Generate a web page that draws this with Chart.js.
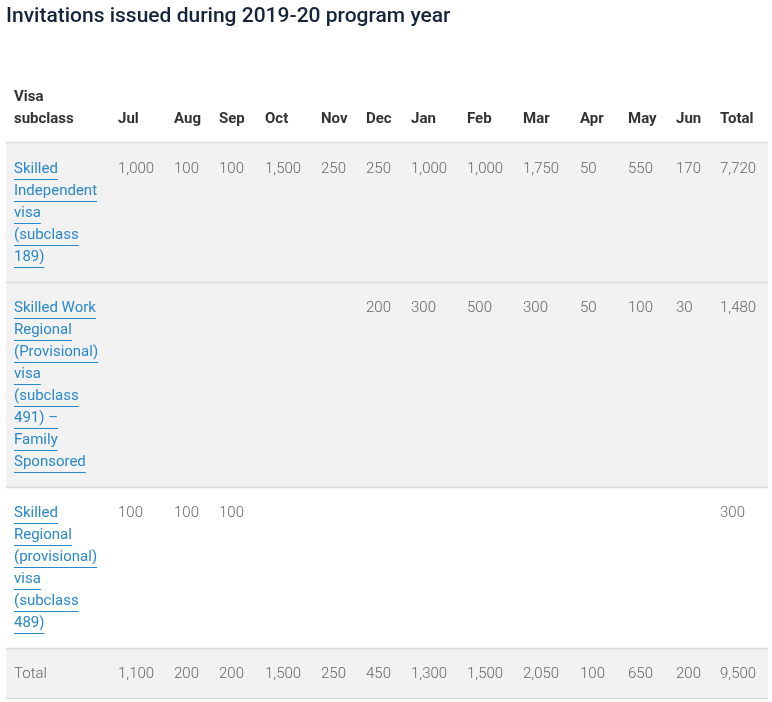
<!DOCTYPE html>
<html><head><meta charset="utf-8">
<script src="https://cdn.jsdelivr.net/npm/chart.js@4"></script>
<style>html,body{margin:0;padding:0;background:#fff}#w{width:772px;height:702px}</style>
</head><body><div id="w"><canvas id="c"></canvas></div>
<script>
const title = "Invitations issued during 2019-20 program year";
const columns = ["Jul","Aug","Sep","Oct","Nov","Dec","Jan","Feb","Mar","Apr","May","Jun","Total"];
const rowLabels = [
  ["Skilled","Independent","visa","(subclass","189)"],
  ["Skilled Work","Regional","(Provisional)","visa","(subclass","491) –","Family","Sponsored"],
  ["Skilled","Regional","(provisional)","visa","(subclass","489)"]
];
const row189 = ["1,000","100","100","1,500","250","250","1,000","1,000","1,750","50","550","170","7,720"];
const row491 = ["","","","","","200","300","500","300","50","100","30","1,480"];
const row489 = ["100","100","100","","","","","","","","","","300"];
const totals = ["1,100","200","200","1,500","250","450","1,300","1,500","2,050","100","650","200","9,500"];

// layout (pixel units on the linear scales)
const colX = [118,174,219,265,321,366,411,467,523,580,628,676,720];
const labelX = 14;
const bands = [[142,282,'#f2f2f2'],[282,487,'#f2f2f2'],[487,648,'#ffffff'],[648,698,'#f2f2f2']];
const rowTextY = [169,308,513];
const lineH = 22;

const tablePlugin = {
  id:'table',
  afterDraw(chart){
    const {ctx, scales:{x,y}} = chart;
    const X=v=>x.getPixelForValue(v), Y=v=>y.getPixelForValue(v);
    ctx.save();
    ctx.textBaseline='middle';
    ctx.fillStyle='#14243a';
    ctx.font='500 21px Roboto';
    ctx.fillText(title, X(6), Y(17));
    bands.forEach(([a,b,c])=>{
      ctx.fillStyle=c; ctx.fillRect(X(6),Y(a),X(768)-X(6),Y(b)-Y(a));
      ctx.strokeStyle='#dcdcdc'; ctx.lineWidth=1.3;
      ctx.beginPath(); ctx.moveTo(X(6),Y(a)+0.5); ctx.lineTo(X(768),Y(a)+0.5); ctx.stroke();
    });
    ctx.beginPath(); ctx.moveTo(X(6),Y(698)+0.5); ctx.lineTo(X(768),Y(698)+0.5); ctx.stroke();
    ctx.fillStyle='#333';
    ctx.font='bold 15px Roboto';
    ctx.fillText('Visa', X(labelX), Y(97));
    ctx.fillText('subclass', X(labelX), Y(119));
    columns.forEach((c,i)=>ctx.fillText(c, X(colX[i]), Y(119)));
    const rows=[row189,row491,row489];
    rows.forEach((r,ri)=>{
      ctx.font='15px Roboto';
      ctx.fillStyle='#2a88c8'; ctx.strokeStyle='#2a88c8'; ctx.lineWidth=1;
      rowLabels[ri].forEach((t,li)=>{
        const yy=Y(rowTextY[ri]+li*lineH);
        ctx.fillText(t, X(labelX), yy);
        const w=ctx.measureText(t).width;
        ctx.beginPath(); ctx.moveTo(X(labelX),yy+10.5); ctx.lineTo(X(labelX)+w,yy+10.5); ctx.stroke();
      });
      ctx.font='300 15px Roboto'; ctx.fillStyle='#666';
      r.forEach((v,i)=>{ if(v) ctx.fillText(v, X(colX[i]), Y(rowTextY[ri])); });
    });
    ctx.font='300 15px Roboto'; ctx.fillStyle='#666';
    ctx.fillText('Total', X(labelX), Y(674));
    totals.forEach((v,i)=>ctx.fillText(v, X(colX[i]), Y(674)));
    ctx.restore();
  }
};

new Chart(document.getElementById('c'),{
  type:'scatter',
  data:{datasets:[{data:[]}]},
  options:{
    responsive:true, maintainAspectRatio:false, animation:false,
    layout:{padding:0},
    plugins:{legend:{display:false},tooltip:{enabled:false}},
    scales:{
      x:{type:'linear',min:0,max:772,display:false},
      y:{type:'linear',min:0,max:702,reverse:true,display:false}
    }
  },
  plugins:[tablePlugin]
});
</script></body></html>
